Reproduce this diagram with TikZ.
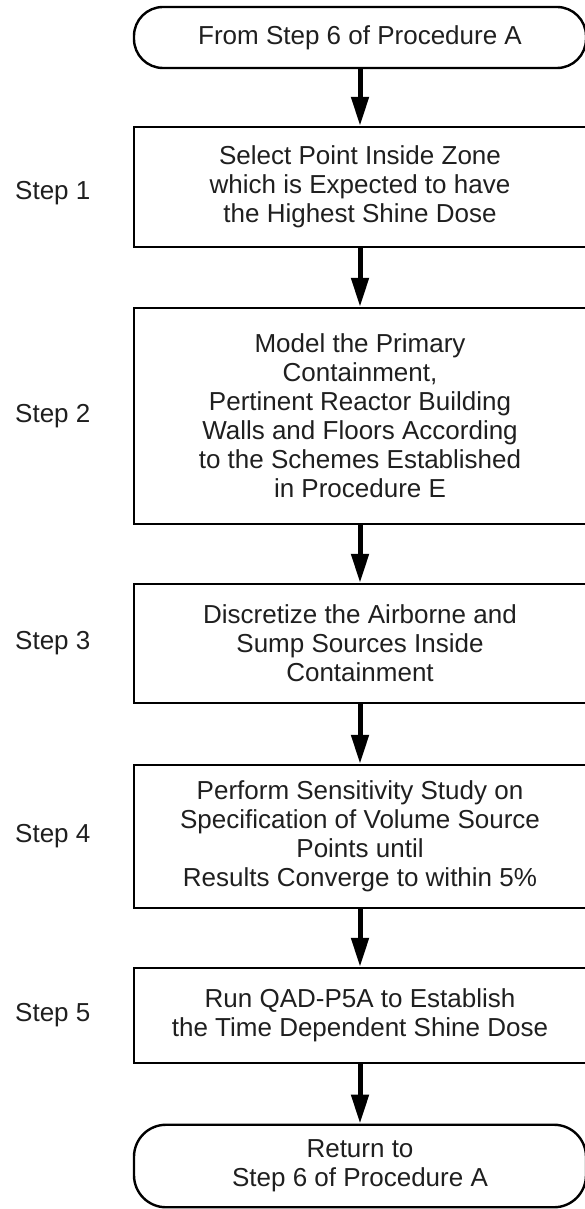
\documentclass[tikz,border=0pt]{standalone}
\usepackage{fontspec}
\setmainfont{Liberation Sans}
\usetikzlibrary{arrows.meta}
\begin{document}
\begin{tikzpicture}[x=1pt,y=-1pt,
  txt/.style={font=\fontsize{26}{29}\selectfont, text=black!88, align=center},
  stepbox/.style={txt, draw=black, line width=2.4pt, minimum width=452pt, inner sep=0pt},
  term/.style={stepbox, rounded corners=#1},
  flow/.style={line width=5pt, -{Triangle[length=29pt,width=17pt]}},
  steplabel/.style={txt, anchor=west, inner sep=0pt}]
\useasboundingbox (0,0) rectangle (584,1209);

% terminals and process boxes
\node[term=29pt, minimum height=61pt] (start) at (360,37.5) {From Step 6 of Procedure A};
\node[stepbox, minimum height=120pt] (s1) at (360,187)
  {Select Point Inside Zone\\which is Expected to have\\the Highest Shine Dose};
\node[stepbox, minimum height=216pt] (s2) at (360,416)
  {Model the Primary\\Containment,\\Pertinent Reactor Building\\Walls and Floors According\\to the Schemes Established\\in Procedure E};
\node[stepbox, minimum height=119pt] (s3) at (360,643.5)
  {Discretize the Airborne and\\Sump Sources Inside\\Containment};
\node[stepbox, minimum height=143pt] (s4) at (360,836.5)
  {Perform Sensitivity Study on\\Specification of Volume Source\\Points until\\Results Converge to within 5\%};
\node[stepbox, minimum height=95pt] (s5) at (360,1015.5)
  {Run QAD-P5A to Establish\\the Time Dependent Shine Dose};
\node[term=32pt, minimum height=82.5pt] (finish) at (360,1166)
  {Return to\\Step 6 of Procedure A};

% step labels
\node[steplabel] (l1) at (15,193) {Step 1};
\node[steplabel] (l2) at (15,416) {Step 2};
\node[steplabel] (l3) at (15,643.5) {Step 3};
\node[steplabel] (l4) at (15,836.5) {Step 4};
\node[steplabel] (l5) at (15,1015.5) {Step 5};

% flow arrows
\draw[flow] (start) -- (s1);
\draw[flow] (s1) -- (s2);
\draw[flow] (s2) -- (s3);
\draw[flow] (s3) -- (s4);
\draw[flow] (s4) -- (s5);
\draw[flow] (s5) -- (finish);
\end{tikzpicture}
\end{document}
